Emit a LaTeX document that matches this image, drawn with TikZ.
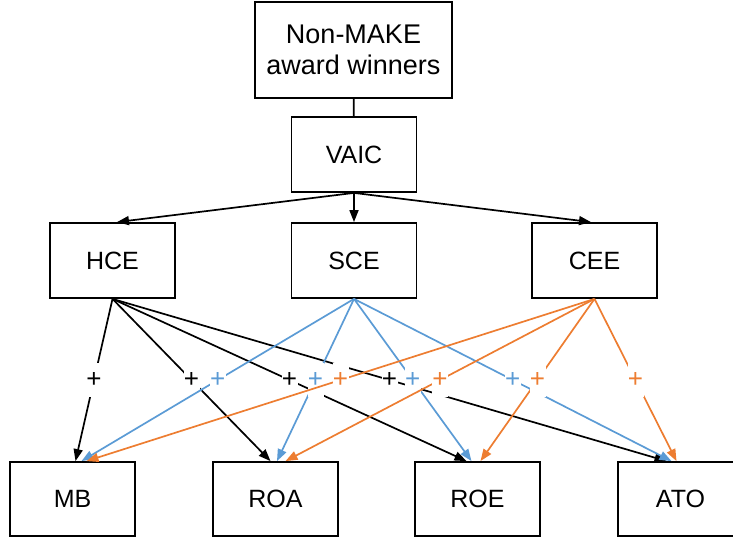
\documentclass[tikz,border=0pt]{standalone}
\usepackage{fontspec}
\setmainfont{Liberation Sans}
\usetikzlibrary{arrows.meta}
\definecolor{sceblue}{RGB}{91,155,213}
\definecolor{ceeorange}{RGB}{237,125,49}

\begin{document}
\begin{tikzpicture}[x=1pt,y=-1pt,
        box/.style={draw,line width=1.8pt,minimum width=125pt,minimum height=75pt,inner sep=0pt,
                    font=\fontsize{25}{30}\selectfont},
        link/.style={line width=1.7pt},
        sign/.style={fill=white,inner sep=0pt,minimum width=16pt,minimum height=34pt,
                     font=\fontsize{26}{30}\selectfont},
        >={Triangle[length=12pt,width=9pt]}]
        \useasboundingbox (0,0) rectangle (733,538);

        \node (award) at (353.5,50)  [box,minimum width=197pt,minimum height=96pt,align=center,
                                      font=\fontsize{27}{31}\selectfont] {Non-MAKE\\award winners};
        \node (VAIC)  at (354,154.5) [box] {VAIC};
        \node (HCE)   at (112.5,260.5) [box] {HCE};
        \node (SCE)   at (354,260.5)   [box] {SCE};
        \node (CEE)   at (594.5,260.5) [box] {CEE};
        \node (MB)    at (72.5,499)  [box,minimum height=74pt] {MB};
        \node (ROA)   at (275.5,499) [box,minimum height=74pt] {ROA};
        \node (ROE)   at (477.5,499) [box,minimum height=74pt] {ROE};
        \node (ATO)   at (680.5,499) [box,minimum height=74pt] {ATO};

        \draw[link] (award) -- (VAIC);
        \draw[link,->] (VAIC.south) -- ([xshift=4.5pt]HCE.north);
        \draw[link,->] (VAIC.south) -- (SCE.north);
        \draw[link,->] (VAIC.south) -- ([xshift=-3.5pt]CEE.north);

        % HCE
        \draw[link,->] (HCE.south) -- ([xshift=3pt]MB.north)    node[sign,pos=0.5]{+};
        \draw[link,->] (HCE.south) -- ([xshift=-5pt]ROA.north)  node[sign,pos=0.5]{+};
        \draw[link,->] (HCE.south) -- ([xshift=-11pt]ROE.north) node[sign,pos=0.5]{+};
        \draw[link,->] (HCE.south) -- ([xshift=-14pt]ATO.north) node[sign,pos=0.5]{+};

        % SCE
        \draw[link,sceblue,->] (SCE.south) -- ([xshift=9pt]MB.north)   node[sign,pos=0.5]{+};
        \draw[link,sceblue,->] (SCE.south) -- ([xshift=1.5pt]ROA.north) node[sign,pos=0.5]{+};
        \draw[link,sceblue,->] (SCE.south) -- ([xshift=-6pt]ROE.north) node[sign,pos=0.5]{+};
        \draw[link,sceblue,->] (SCE.south) -- ([xshift=-9pt]ATO.north) node[sign,pos=0.5]{+};

        % CEE
        \draw[link,ceeorange,->] (CEE.south) -- ([xshift=14pt]MB.north)  node[sign,pos=0.5]{+};
        \draw[link,ceeorange,->] (CEE.south) -- ([xshift=10pt]ROA.north) node[sign,pos=0.5]{+};
        \draw[link,ceeorange,->] (CEE.south) -- ([xshift=3pt]ROE.north)  node[sign,pos=0.5]{+};
        \draw[link,ceeorange,->] (CEE.south) -- ([xshift=-4pt]ATO.north) node[sign,pos=0.5]{+};
    \end{tikzpicture}
\end{document}
